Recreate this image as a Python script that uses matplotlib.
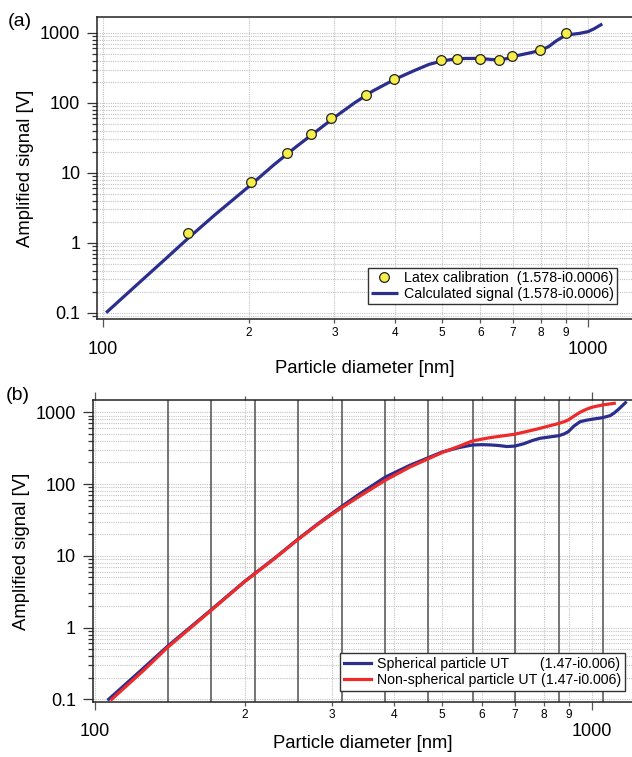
import matplotlib
matplotlib.use('Agg')
import matplotlib.pyplot as plt
from matplotlib.ticker import FixedLocator, FixedFormatter, NullFormatter

plt.rcParams['font.family'] = ['Liberation Sans', 'DejaVu Sans']

# ---------------- data: panel (a) ----------------
latex_d = [150, 202, 239, 268, 295, 348, 399, 497, 536, 598, 654, 697, 796, 900]
latex_v = [1.39, 7.4, 19.5, 36, 60, 129, 220, 407, 430, 430, 416, 464, 565, 1000]

calc_d = [101.5, 110, 120, 135, 150, 170, 200, 225, 250, 275, 300, 330, 360, 400,
          440, 470, 500, 530, 560, 600, 630, 655, 680, 700, 730, 760, 800, 830,
          860, 890, 905, 920, 960, 1000, 1030, 1070]
calc_v = [0.1, 0.166, 0.287, 0.6, 1.17, 2.5, 6.4, 13, 23.5, 39, 62, 100, 148, 218,
          293, 355, 398, 423, 432, 432, 418, 410, 430, 460, 490, 520, 565, 640,
          770, 890, 936, 950, 985, 1044, 1150, 1345]

# ---------------- data: panel (b) ----------------
sph_d = [106.5, 125, 140, 171, 200, 230, 256, 280, 300, 314, 340, 384, 430, 468,
         500, 540, 575, 600, 624, 650, 675, 700, 730, 760, 787, 820, 859, 880,
         897, 920, 947, 975, 1000, 1051, 1089, 1110, 1132, 1169]
sph_v = [0.1, 0.27, 0.55, 1.75, 4.4, 9.3, 17, 27.5, 39, 49, 72, 125, 182, 232,
         280, 322, 350, 354, 351, 344, 333, 338, 365, 405, 434, 452, 472, 500,
         537, 640, 739, 775, 798, 841, 897, 980, 1101, 1360]

nonsph_d = [108, 125, 140, 171, 200, 230, 256, 280, 300, 314, 340, 384, 430, 468,
            500, 540, 573, 600, 624, 660, 698, 740, 787, 820, 859, 880, 897, 920,
            947, 975, 1000, 1051, 1110]
nonsph_v = [0.1, 0.25, 0.53, 1.72, 4.35, 9.2, 16.8, 27, 38, 47, 67, 113, 172, 224,
            275, 335, 395, 422, 443, 468, 493, 540, 598, 645, 700, 740, 782, 880,
            1000, 1100, 1174, 1265, 1334]

bin_edges = [140, 171, 210, 256, 314, 384, 468, 576, 702, 859, 1051]

# ---------------- ticks ----------------
x_major = [100, 1000]
x_major_labels = ['100', '1000']
x_minor = [200, 300, 400, 500, 600, 700, 800, 900]
x_minor_labels = ['2', '3', '4', '5', '6', '7', '8', '9']
y_major = [0.1, 1, 10, 100, 1000]
y_major_labels = ['0.1', '1', '10', '100', '1000']
y_minor = [m * 10.0 ** e for e in range(-2, 4) for m in range(2, 10)]

BLUE = '#2b2e8c'
RED = '#ee2a2a'
GRID = '#c4c4c4'
SPINE = '#222222'

fig = plt.figure(figsize=(6.32, 7.57), dpi=100)
W, H = 632.0, 757.0


def add_axes(left, top, right, bottom):
    return fig.add_axes([left / W, 1 - bottom / H, (right - left) / W, (bottom - top) / H])


def style(ax, top_ticks, xlabelpad):
    ax.set_xscale('log')
    ax.set_yscale('log')
    ax.xaxis.set_major_locator(FixedLocator(x_major))
    ax.xaxis.set_major_formatter(FixedFormatter(x_major_labels))
    ax.xaxis.set_minor_locator(FixedLocator(x_minor))
    ax.xaxis.set_minor_formatter(FixedFormatter(x_minor_labels))
    ax.yaxis.set_major_locator(FixedLocator(y_major))
    ax.yaxis.set_major_formatter(FixedFormatter(y_major_labels))
    ax.yaxis.set_minor_locator(FixedLocator(y_minor))
    ax.yaxis.set_minor_formatter(NullFormatter())
    ax.grid(which='both', linestyle=(0, (1, 1)), color=GRID, linewidth=0.8, zorder=0)
    ax.set_axisbelow(True)
    for s in ('left', 'bottom', 'top'):
        ax.spines[s].set_color(SPINE)
        ax.spines[s].set_linewidth(1.1)
    ax.spines['right'].set_visible(False)
    ax.tick_params(axis='y', which='major', direction='out', length=7, width=0.9,
                   labelsize=13, pad=5, color='#333333')
    ax.tick_params(axis='y', which='minor', direction='out', length=3.6, width=0.9,
                   color='#333333')
    ax.tick_params(axis='x', which='major', direction='out', length=6, width=0.9,
                   labelsize=13, pad=9.5, color='#555555', top=top_ticks)
    ax.tick_params(axis='x', which='minor', direction='out', length=2.6, width=0.9,
                   labelsize=8.6, pad=3, color='#555555', top=top_ticks)
    ax.set_xlabel('Particle diameter [nm]', fontsize=13.3, labelpad=xlabelpad)
    ax.set_ylabel('Amplified signal [V]', fontsize=13.3, labelpad=4)


# ---------------- panel (a) ----------------
axa = add_axes(97, 17, 632, 319)
style(axa, False, 1.5)
axa.set_xlim(97.2, 1232)
axa.set_ylim(0.0813, 1690)
axa.plot(calc_d, calc_v, color=BLUE, lw=2.3, solid_capstyle='butt', zorder=3,
         label='Calculated signal (1.578-i0.0006)')
axa.plot(latex_d, latex_v, linestyle='none', marker='o', ms=7, mfc='#f6ee4a',
         mec='#222222', mew=0.9, zorder=4, label='Latex calibration  (1.578-i0.0006)')
h, l = axa.get_legend_handles_labels()
lega = axa.legend([h[1], h[0]], [l[1], l[0]], loc='lower right',
                  bbox_to_anchor=(617 / W, 1 - 304 / H), bbox_transform=fig.transFigure,
                  fontsize=10.3, frameon=True, fancybox=False, edgecolor='#333333',
                  framealpha=1, borderpad=0.2, handlelength=1.9, handletextpad=0.45,
                  labelspacing=0.14, borderaxespad=0, numpoints=1)
lega.get_frame().set_linewidth(1.0)
fig.text(20 / W, 1 - 21 / H, '(a)', fontsize=14, ha='center', va='center')

# ---------------- panel (b) ----------------
axb = add_axes(92.7, 400, 632, 701.7)
style(axb, True, -3.5)
axb.set_xlim(98.9, 1205)
axb.set_ylim(0.0926, 1483)
for e in bin_edges:
    axb.axvline(e, color='#505050', lw=1.1, zorder=1)
axb.plot(sph_d, sph_v, color=BLUE, lw=2.3, zorder=3,
         label='Spherical particle UT' + ' ' * 8 + '(1.47-i0.006)')
axb.plot(nonsph_d, nonsph_v, color=RED, lw=2.3, zorder=4,
         label='Non-spherical particle UT (1.47-i0.006)')
legb = axb.legend(loc='lower right', bbox_to_anchor=(625 / W, 1 - 691 / H),
                  bbox_transform=fig.transFigure, fontsize=10.2, frameon=True,
                  fancybox=False, edgecolor='#333333', framealpha=1, borderpad=0.25,
                  handlelength=1.9, handletextpad=0.45, labelspacing=0.18,
                  borderaxespad=0)
legb.get_frame().set_linewidth(1.0)
legb.set_zorder(10)
fig.text(18 / W, 1 - 395 / H, '(b)', fontsize=14, ha='center', va='center')

fig.savefig('out.png', dpi=100)
